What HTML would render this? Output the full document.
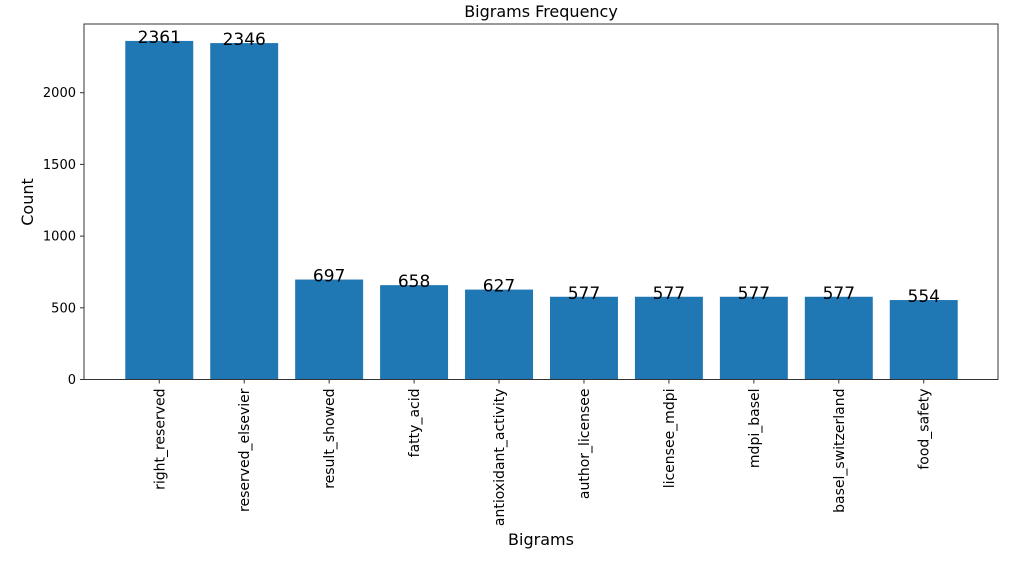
<!DOCTYPE html>
<html><head><meta charset="utf-8"><style>
body{margin:0;background:#fff;}
svg text{font-family:"DejaVu Sans","Liberation Sans",sans-serif;fill:#000;}
</style></head><body>
<svg width="1022" height="561">
<text x="541" y="17" font-size="16" text-anchor="middle">Bigrams Frequency</text>
<text x="541" y="545" font-size="16" text-anchor="middle">Bigrams</text>
<text transform="translate(33,202) rotate(-90)" font-size="16" text-anchor="middle">Count</text>
<g id="plot"></g>
<rect x="84" y="24" width="914" height="355.5" fill="none" stroke="#333" stroke-width="1"/>
</svg>
<script>
const categories=["right_reserved","reserved_elsevier","result_showed","fatty_acid","antioxidant_activity","author_licensee","licensee_mdpi","mdpi_basel","basel_switzerland","food_safety"];
const counts=[2361,2346,697,658,627,577,577,577,577,554];
const yTicks=[0,500,1000,1500,2000];
const L=84,R=998,T=24,B=379.5;
const ymax=Math.max(...counts)*1.05;
const n=categories.length;
const xmin=-0.4-0.049*(n-1+0.8), xmax=n-1+0.4+0.049*(n-1+0.8);
const sx=v=>L+(v-xmin)/(xmax-xmin)*(R-L);
const sy=v=>B-v/ymax*(B-T);
const g=document.getElementById('plot');
const NS="http://www.w3.org/2000/svg";
function mk(t,a){const e=document.createElementNS(NS,t);for(const k in a)e.setAttribute(k,a[k]);g.appendChild(e);return e;}
yTicks.forEach(v=>{
 const l=mk('line',{x1:L-4,x2:L,y1:sy(v),y2:sy(v),stroke:'#333'});
 
 
 const t=mk('text',{x:L-8,y:sy(v)+4.5,'font-size':13,'text-anchor':'end'});t.textContent=v;
 
 
});
categories.forEach((c,i)=>{
 const x0=sx(i-0.4)+0.5,x1=sx(i+0.4)+0.5;
 const r=mk('rect',{x:x0,y:sy(counts[i]),width:x1-x0,height:B-sy(counts[i]),fill:'#1f77b4'});
 
 
 const v=mk('text',{x:sx(i)+0.5,y:sy(counts[i])+2,'font-size':17,'text-anchor':'middle'});v.textContent=counts[i];
 
 
 const tk=mk('line',{x1:sx(i)+0.5,x2:sx(i)+0.5,y1:B,y2:B+4,stroke:'#333'});
 
 
 const t=mk('text',{transform:`translate(${sx(i)+5.5},${B+9}) rotate(-90)`,'font-size':14,'text-anchor':'end'});t.textContent=c;
 
 
});
</script>
</body></html>
